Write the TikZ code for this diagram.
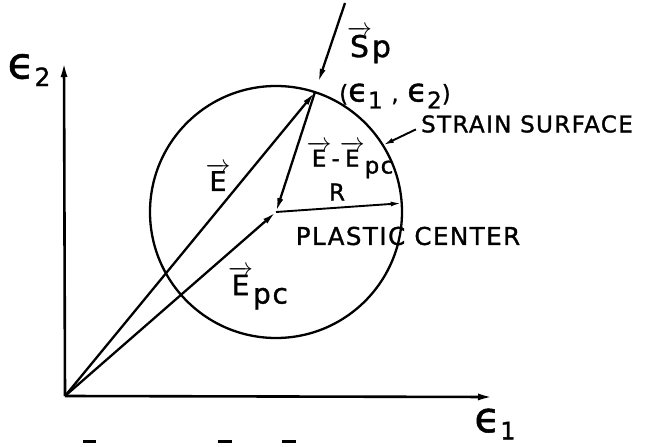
\documentclass[tikz,border=0pt]{standalone}
\usepackage{fontspec}
\setmainfont{DejaVu Sans}[LetterSpace=6, FakeBold=1.2]
\usetikzlibrary{arrows.meta}
\newcommand{\vecacc}[1]{\ensuremath{\overrightarrow{\mbox{#1}}}}
\newcommand{\lowsub}[1]{\raisebox{-0.3em}{#1}}
\newcommand{\eps}{\scalebox{1.4}{ϵ}}
\newcommand{\bigeps}{\scalebox{1.75}{ϵ}}
\begin{document}
\begin{tikzpicture}[x=1pt,y=-1pt,
  lab/.style={font=\fontsize{23}{26}\selectfont, inner sep=0pt},
  ax/.style={line width=2.6pt},
  vecline/.style={line width=2.3pt, -{Latex[length=14pt,width=6pt]}},
  thinarrow/.style={line width=1.9pt, -{Latex[length=11pt,width=5pt]}},
  tick/.style={line width=3pt}]
\useasboundingbox (0,0) rectangle (649,447);
\coordinate (O) at (65,396);
\coordinate (Ytop) at (64,62);
\coordinate (Xend) at (493,397);
\coordinate (C) at (276,212);
\node[circle, draw, line width=2.3pt, minimum size=252pt, inner sep=0pt, outer sep=0pt] (circ) at (C) {};
\coordinate (P) at (circ.72);
\coordinate (Q) at (circ.4);
\coordinate (S) at (circ.32);
\coordinate (Sp0) at (345,3);
% axes
\draw[ax, -{Latex[length=15pt,width=7pt]}] (O) -- (Ytop);
\draw[ax, -{Latex[length=15pt,width=7pt]}] (O) -- (Xend);
% vectors
\draw[vecline] (O) -- (P);
\draw[vecline] (O) -- (C);
\draw[vecline] (P) -- (C);
\draw[vecline, shorten >=10pt] (Sp0) -- (P);
\draw[thinarrow] (C) -- (Q);
% labels
\node[lab, font=\fontsize{25}{28}\selectfont] (e2) at (29,70) {\bigeps\lowsub{2}};
\node[lab, font=\fontsize{24}{28}\selectfont] (e1) at (495,424) {\bigeps\lowsub{1}};
\node[lab, font=\fontsize{27}{30}\selectfont] (lE) at (218,177) {\vecacc{E}};
\node[lab, font=\fontsize{28}{30}\selectfont] (lEpc) at (258,288) {\vecacc{E}\lowsub{pc}};
\node[lab, font=\fontsize{23}{25}\selectfont] (lEdiff) at (350,160) {\vecacc{E}-\vecacc{E}\lowsub{pc}};
\node[lab] (lR) at (337,192) {R};
\node[lab, font=\fontsize{24.5}{27}\selectfont] (plastic) at (408,236) {PLASTIC CENTER};
\node[lab] (strain) at (527,124) {STRAIN SURFACE};
\node[lab, font=\fontsize{30}{32}\selectfont] (lSp) at (369,45) {\vecacc{S}p};
\node[lab] (coord) at (395,96) {(\eps\lowsub{1} , \eps\lowsub{2})};
\draw[thinarrow] ([xshift=-5pt,yshift=3pt]strain.base west) -- (S);
% stray marks
\draw[tick] (83,441) -- (96,441);
\draw[tick] (218,441) -- (232,441);
\draw[tick] (282,441) -- (296,441);
\end{tikzpicture}
\end{document}
